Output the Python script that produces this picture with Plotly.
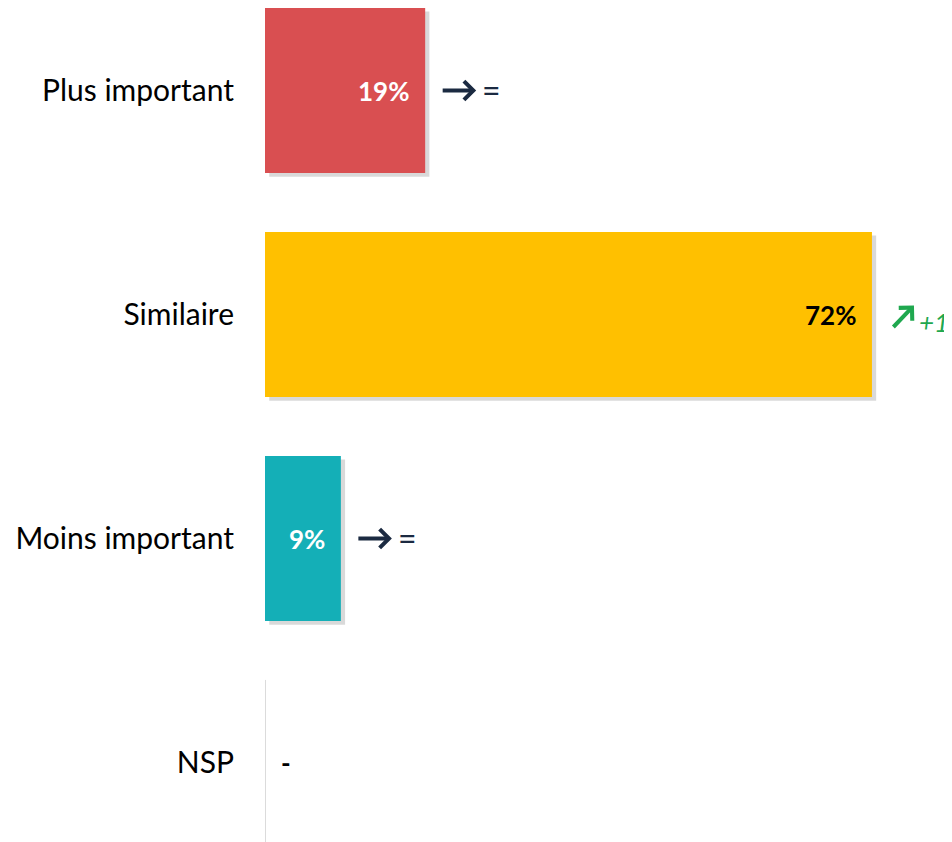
import plotly.graph_objects as go

# data
categories = ["Plus important", "Similaire", "Moins important", "NSP"]
values = [19, 72, 9, 0]
bar_labels = ["19%", "72%", "9%", "-"]
trends = ["=", "+1", "=", ""]
bar_colors = ["#D94F51", "#FFC000", "#14AFB7", "#FFFFFF"]
label_colors = ["white", "black", "white", "black"]

FONT = "Lato"
pos = list(range(len(categories)))

fig = go.Figure()

# soft drop shadow behind the bars
fig.add_trace(go.Bar(
    y=pos, x=values, base=0.5, orientation="h",
    width=0.737, offset=-0.3685 + 0.016,
    marker=dict(color="rgba(0,0,0,0.15)", line=dict(width=0)),
    hoverinfo="skip", showlegend=False,
))

fig.add_trace(go.Bar(
    y=pos, x=values, orientation="h", width=0.737,
    marker=dict(color=bar_colors,
                line=dict(color=["rgba(0,0,0,0)"] * 3 + ["#D0D0D0"], width=1)),
    hoverinfo="skip", showlegend=False,
))

annotations = []
for i, v in enumerate(values):
    if v > 0:
        annotations.append(dict(
            x=v, y=i, xref="x", yref="y", text="<b>%s</b>" % bar_labels[i],
            showarrow=False, xanchor="right", xshift=-14,
            font=dict(family=FONT, size=26, color=label_colors[i]),
        ))
    else:
        annotations.append(dict(
            x=0, y=i, xref="x", yref="y", text="<b>%s</b>" % bar_labels[i],
            showarrow=False, xanchor="left", xshift=14,
            font=dict(family=FONT, size=26, color=label_colors[i]),
        ))

    t = trends[i]
    if t == "=":
        annotations.append(dict(
            x=v, y=i, xref="x", yref="y", text="", showarrow=True,
            xshift=51, ax=-35, ay=0, arrowhead=4, arrowsize=0.9,
            arrowwidth=4, arrowcolor="#1B2A41",
        ))
        annotations.append(dict(
            x=v, y=i, xref="x", yref="y", text=t, showarrow=False,
            xanchor="left", xshift=55, yshift=1,
            font=dict(family=FONT, size=32, color="#1B2A41"),
        ))
    elif t.startswith("+"):
        annotations.append(dict(
            x=v, y=i, xref="x", yref="y", text="", showarrow=True,
            xshift=42, yshift=9, ax=-22, ay=23, arrowhead=4, arrowsize=0.9,
            arrowwidth=4, arrowcolor="#1FA84F",
        ))
        annotations.append(dict(
            x=v, y=i, xref="x", yref="y", text="<i>%s</i>" % t, showarrow=False,
            xanchor="left", xshift=45, yshift=-7,
            font=dict(family=FONT, size=26, color="#1FA84F"),
        ))

fig.update_layout(
    width=952, height=842,
    margin=dict(l=257, r=0, t=0, b=0),
    paper_bgcolor="white", plot_bgcolor="white",
    barmode="overlay",
    annotations=annotations,
    xaxis=dict(range=[0, 695 / 8.43], visible=False, fixedrange=True),
    yaxis=dict(
        range=[3 + 87.5 / 224, -82.5 / 224],
        tickvals=pos, ticktext=categories,
        showgrid=False, zeroline=False, showline=False,
        ticks="", ticklabelstandoff=30,
        tickfont=dict(family=FONT, size=30, color="black"),
    ),
)

fig.write_html("out.html")
